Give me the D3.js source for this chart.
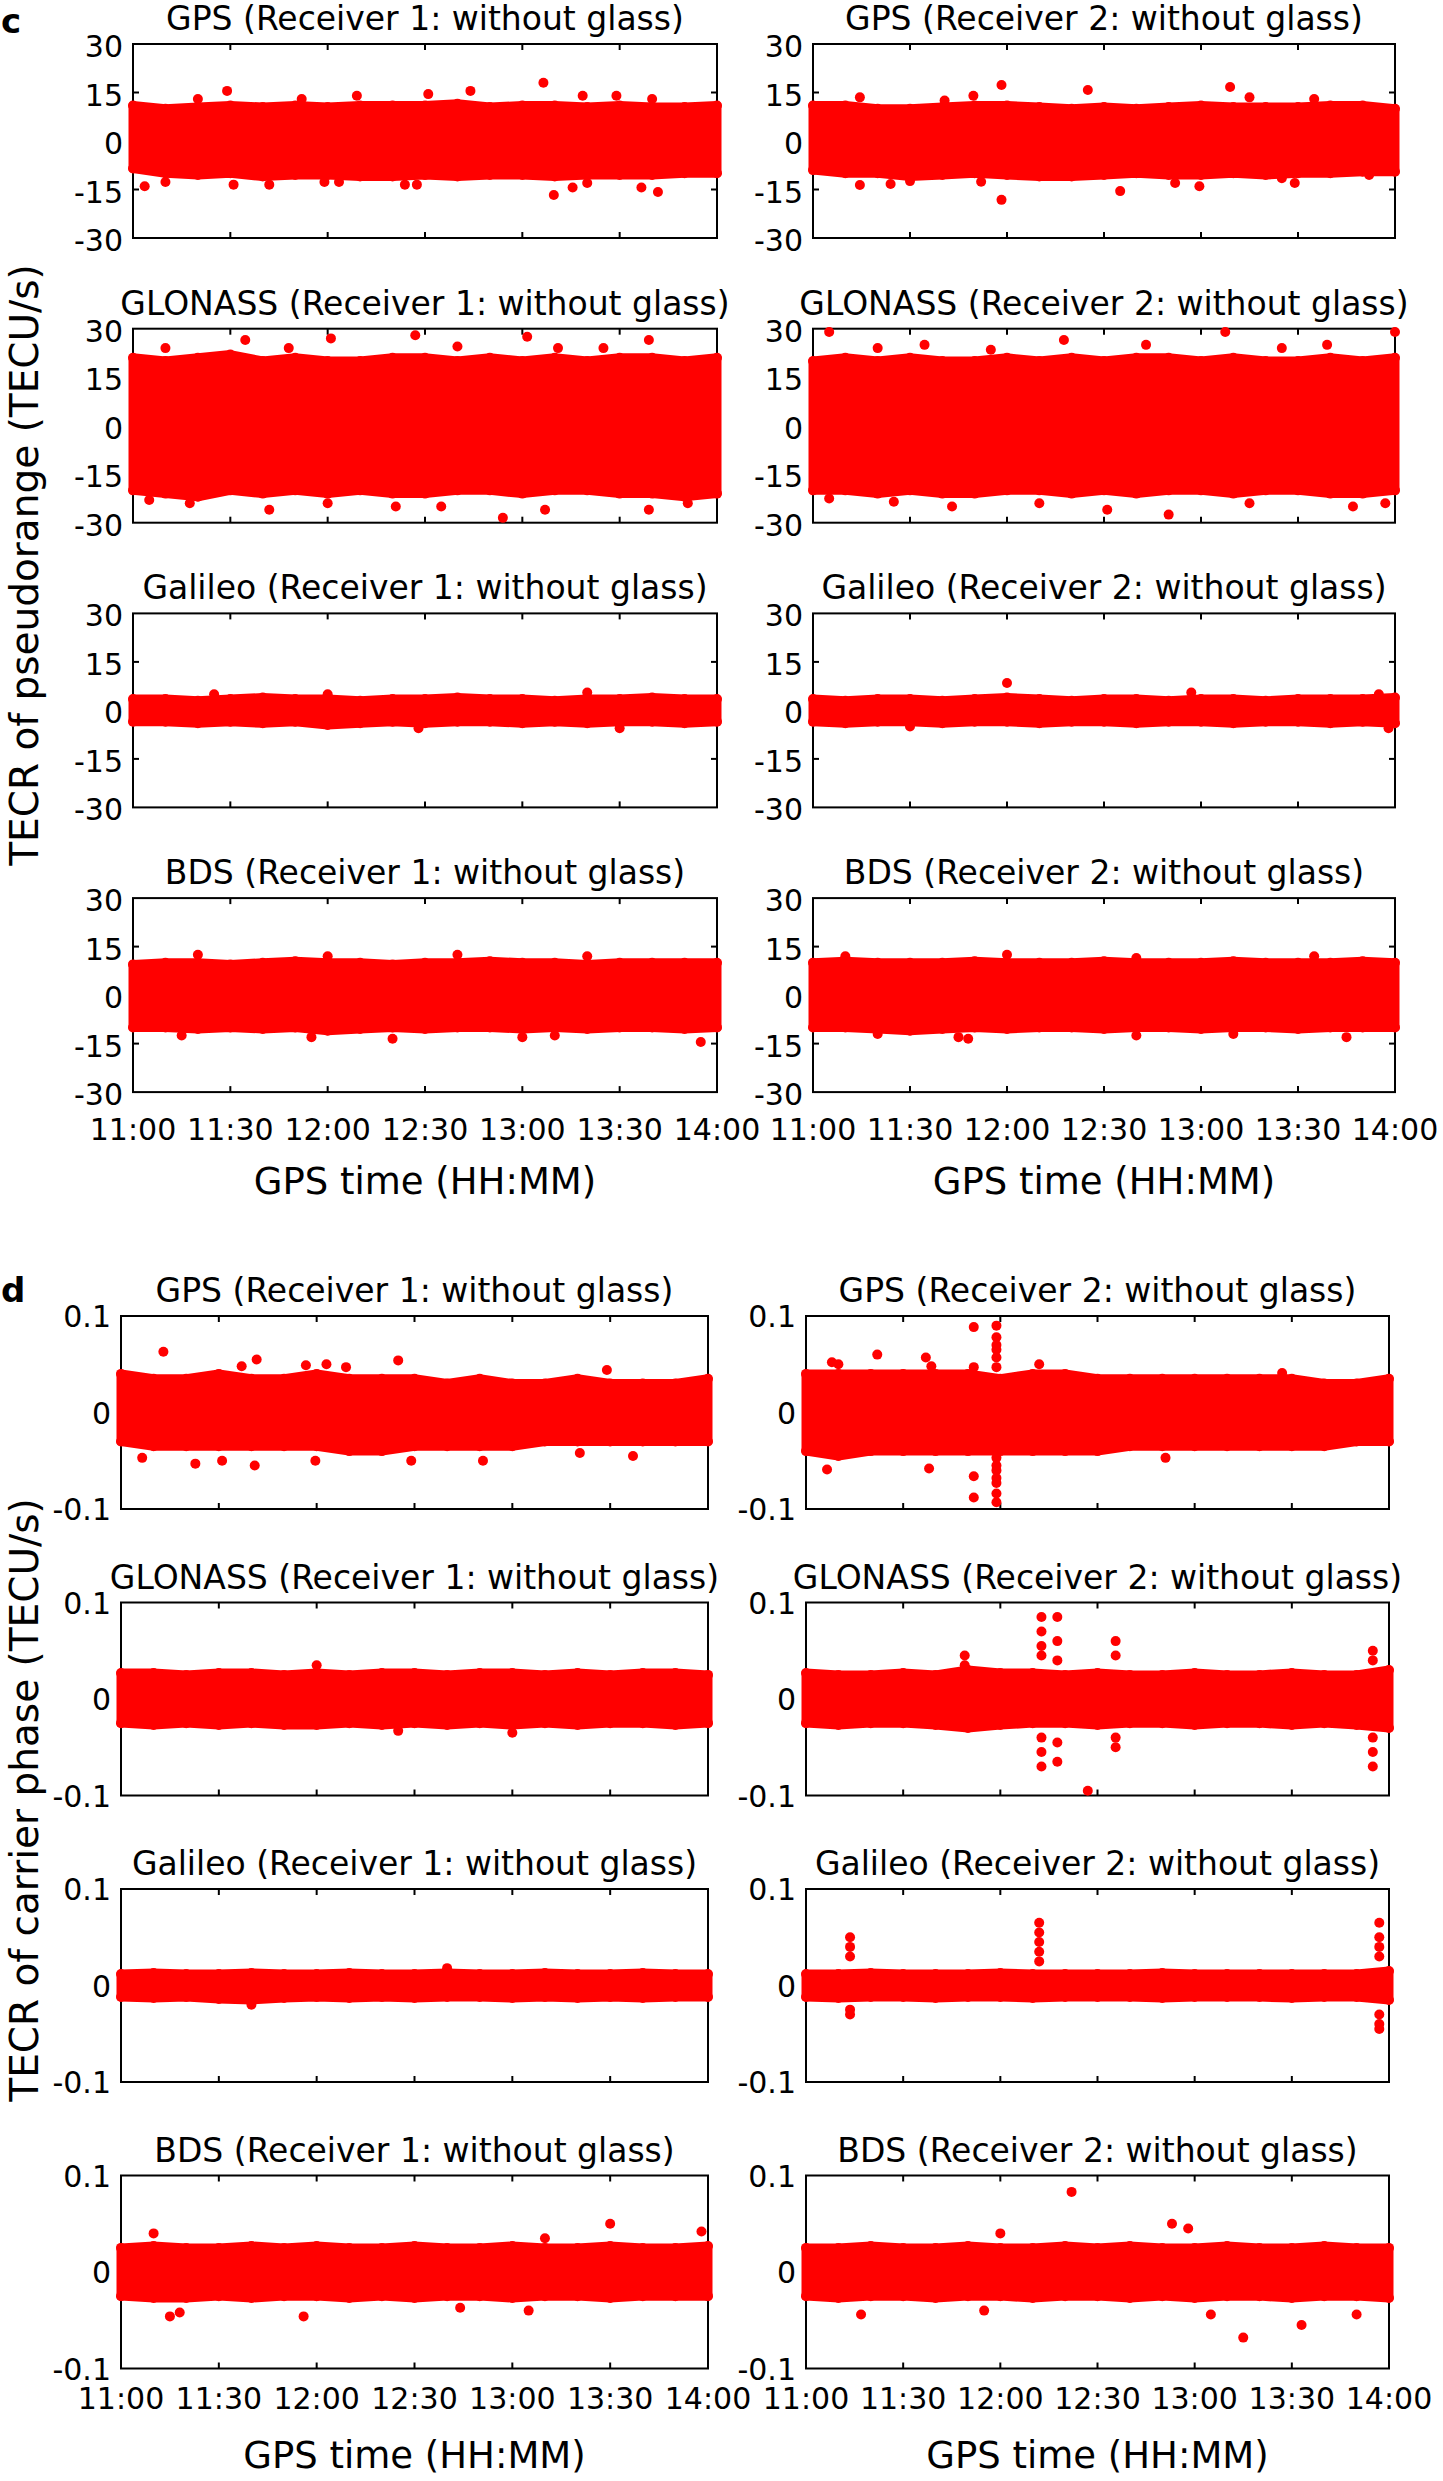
<!DOCTYPE html>
<html><head><meta charset="utf-8">
<script src="https://cdn.jsdelivr.net/npm/d3@7"></script>
<style>
body{margin:0;background:#fff}
svg text{font-family:"DejaVu Sans",sans-serif;fill:#000}
</style>
</head><body>
<svg id="chart" width="1443" height="2481"></svg>
<script>
// ---------- axis data ----------
const timeTicks = [0, 30, 60, 90, 120, 150, 180];            // minutes after 11:00
const timeTickLabels = ["11:00","11:30","12:00","12:30","13:00","13:30","14:00"];
const envTimes = [0,10,20,30,40,50,60,70,80,90,100,110,120,130,140,150,160,170,180];
const pseudoTicks = [-30, -15, 0, 15, 30];
const pseudoTickLabels = ["-30","-15","0","15","30"];
const phaseTicks = [-0.1, 0, 0.1];
const phaseTickLabels = ["-0.1","0","0.1"];
const systems = ["GPS","GLONASS","Galileo","BDS"];
const receivers = ["Receiver 1: without glass","Receiver 2: without glass"];

// ---------- (c) TECR of pseudorange: band envelopes (TECU/s) ----------
const gpsR1PrHi = [11,10,10.5,11,10.5,11,10.5,11,11,11,11.5,10.5,11,11,10.5,11,10.5,10.5,11];
const gpsR1PrLo = [-8.5,-10,-10.5,-10,-11,-10.5,-10.5,-11,-11,-10.5,-11,-10.5,-10.5,-11,-10.5,-10.5,-10.5,-10,-10];
const gpsR2PrHi = [11,11,10,10,10.5,11,11,10.5,10,10.5,10,10.5,11,10.5,10.5,10.5,11,11,10];
const gpsR2PrLo = [-9,-10,-10,-11,-10.5,-10,-10.5,-11,-11,-10.5,-10,-10.5,-10.5,-10,-10.5,-10,-10,-9.5,-9.5];
const gloR1PrHi = [21,20,21,22,20,21,20,20,21,21,20,21,20,21,20,21,21,20,21];
const gloR1PrLo = [-20,-21,-22,-20,-21,-20,-21,-20,-21,-21,-20,-20,-21,-20,-20,-21,-21,-22,-21];
const gloR2PrHi = [20,21,20,21,20,20,21,20,21,20,21,21,20,21,20,20,21,20,21];
const gloR2PrLo = [-20,-20,-21,-20,-21,-21,-20,-20,-21,-20,-21,-20,-20,-21,-20,-20,-21,-21,-20];
const galR1PrHi = [3.5,3.5,3,3.5,4,3.5,3.5,3,3.5,3.5,4,3.5,3.5,3,3.5,3.5,4,3.5,3.5];
const galR1PrLo = [-3.5,-3.5,-4,-3.5,-4,-3.5,-4.5,-4,-3.5,-4,-3.5,-3.5,-4,-3.5,-4,-3.5,-3.5,-4,-3.5];
const galR2PrHi = [3.5,3,3.5,3.5,3,3.5,4,3.5,3,3.5,3.5,3,3.5,3.5,3,3.5,3.5,3.5,4];
const galR2PrLo = [-3.5,-4,-3.5,-3.5,-4,-3.5,-3.5,-4,-3.5,-3.5,-4,-3.5,-3.5,-4,-3.5,-3.5,-4,-3.5,-4];
const bdsR1PrHi = [9.5,10,10,9.5,10,10.5,10,10,9.5,10,10,10.5,10,10,9.5,10,10,10,10];
const bdsR1PrLo = [-10,-10,-10.5,-10,-10.5,-10,-11,-10.5,-10,-10.5,-10,-10,-10.5,-10,-10.5,-10,-10,-10.5,-10];
const bdsR2PrHi = [10,10.5,10,10,10,10.5,10,10,10,10.5,10,10,10,10.5,10,10,10,10.5,10];
const bdsR2PrLo = [-10,-10,-10.5,-11,-10.5,-10,-10.5,-10,-10,-10.5,-10,-10,-10.5,-10,-10,-10.5,-10,-10,-10];

// outlying points [minutes after 11:00, value]
const gpsR1PrOut = [[29,15.5],[69,14],[91,14.5],[104,15.5],[126.5,18],[138.6,14],[149,14],[160,13],[52,13],[20,13],
  [3.6,-14],[10,-12.7],[31,-13.5],[42,-13.5],[59,-12.7],[63.5,-12.7],[83.8,-13.5],[87.5,-13.5],[129.7,-16.7],[135.5,-14.4],[140,-13],[156.7,-14.4],[161.8,-15.8]];
const gpsR2PrOut = [[58.3,17.3],[49.6,14],[85,15.8],[129,16.7],[135,13.5],[155,13],[14.5,13.5],[40.7,12.5],
  [58.3,-18.2],[14.5,-13.6],[24,-13.3],[30,-12.4],[52,-12.6],[95,-15.5],[112,-13],[119.5,-14],[145,-11.5],[149,-13],[172,-10.5]];
const gloR1PrOut = [[34.6,26.5],[61,27],[87,28],[121.5,27.5],[131,24],[159,26.5],[10,24],[48,24],[100,24.5],[145,24],
  [17.5,-24],[42,-26],[81,-25],[114,-28.5],[127,-26],[159,-26],[171,-24],[60,-24],[95,-25],[5,-23]];
const gloR2PrOut = [[5,29],[34.5,25],[77.6,26.5],[103,25],[127.5,29],[159,25],[180,29],[20,24],[55,23.5],[145,24],
  [5,-22.5],[43,-25],[91,-26],[110,-27.5],[167,-25],[177,-24],[25,-23.5],[70,-24],[135,-24]];
const galR1PrOut = [[60,5],[140,5.5],[25,5],[88,-5.5],[150,-5.5]];
const galR2PrOut = [[60,8.5],[117,5.5],[175,5],[178,-5.5],[30,-5]];
const bdsR1PrOut = [[20,12.5],[60,12],[100,12.5],[140,12],[55,-13],[80,-13.5],[130,-12.5],[175,-14.5],[120,-13],[15,-12.5]];
const bdsR2PrOut = [[10,12],[60,12.5],[155,12],[100,11.5],[45,-13],[48,-13.5],[100,-12.5],[130,-12],[165,-13],[20,-12]];

// ---------- (d) TECR of carrier phase: band envelopes (TECU/s) ----------
const gpsR1PhHi = [0.04,0.035,0.035,0.04,0.035,0.035,0.04,0.035,0.035,0.035,0.03,0.035,0.03,0.03,0.035,0.03,0.03,0.03,0.035];
const gpsR1PhLo = [-0.03,-0.035,-0.035,-0.035,-0.035,-0.035,-0.035,-0.04,-0.04,-0.035,-0.035,-0.035,-0.035,-0.03,-0.03,-0.03,-0.03,-0.03,-0.03];
const gpsR2PhHi = [0.04,0.04,0.04,0.04,0.04,0.04,0.035,0.04,0.04,0.035,0.035,0.035,0.035,0.035,0.035,0.035,0.03,0.03,0.035];
const gpsR2PhLo = [-0.04,-0.045,-0.04,-0.04,-0.04,-0.04,-0.04,-0.04,-0.04,-0.04,-0.035,-0.035,-0.035,-0.035,-0.035,-0.035,-0.035,-0.03,-0.03];
const gloR1PhHi = [0.027,0.027,0.025,0.027,0.027,0.025,0.027,0.025,0.027,0.027,0.025,0.027,0.027,0.025,0.027,0.025,0.027,0.027,0.025];
const gloR1PhLo = [-0.025,-0.027,-0.025,-0.027,-0.025,-0.027,-0.027,-0.025,-0.027,-0.025,-0.027,-0.025,-0.027,-0.025,-0.027,-0.025,-0.025,-0.027,-0.025];
const gloR2PhHi = [0.027,0.025,0.025,0.027,0.025,0.03,0.027,0.027,0.025,0.027,0.025,0.025,0.027,0.025,0.025,0.027,0.025,0.025,0.03];
const gloR2PhLo = [-0.025,-0.027,-0.025,-0.025,-0.027,-0.03,-0.027,-0.025,-0.025,-0.027,-0.025,-0.025,-0.027,-0.025,-0.025,-0.027,-0.025,-0.027,-0.03];
const galR1PhHi = [0.012,0.013,0.012,0.012,0.013,0.012,0.012,0.013,0.012,0.012,0.013,0.012,0.012,0.013,0.012,0.012,0.013,0.012,0.012];
const galR1PhLo = [-0.012,-0.013,-0.012,-0.014,-0.015,-0.013,-0.012,-0.013,-0.012,-0.013,-0.012,-0.012,-0.013,-0.012,-0.013,-0.012,-0.013,-0.012,-0.012];
const galR2PhHi = [0.012,0.012,0.013,0.012,0.012,0.012,0.013,0.012,0.012,0.012,0.012,0.013,0.012,0.012,0.012,0.012,0.012,0.012,0.015];
const galR2PhLo = [-0.012,-0.013,-0.012,-0.012,-0.013,-0.012,-0.012,-0.013,-0.012,-0.012,-0.012,-0.013,-0.012,-0.012,-0.012,-0.013,-0.012,-0.012,-0.015];
const bdsR1PhHi = [0.025,0.027,0.025,0.025,0.027,0.025,0.027,0.025,0.025,0.027,0.025,0.025,0.027,0.025,0.025,0.027,0.025,0.025,0.027];
const bdsR1PhLo = [-0.025,-0.027,-0.027,-0.025,-0.027,-0.025,-0.025,-0.027,-0.025,-0.027,-0.025,-0.025,-0.027,-0.025,-0.025,-0.027,-0.025,-0.025,-0.025];
const bdsR2PhHi = [0.025,0.025,0.027,0.025,0.025,0.027,0.025,0.025,0.027,0.025,0.027,0.025,0.025,0.027,0.025,0.025,0.027,0.025,0.025];
const bdsR2PhLo = [-0.025,-0.027,-0.025,-0.025,-0.027,-0.025,-0.025,-0.027,-0.025,-0.025,-0.027,-0.025,-0.027,-0.025,-0.025,-0.027,-0.025,-0.025,-0.027];

const gpsR1PhOut = [[13,0.063],[41.6,0.055],[37,0.048],[56.7,0.049],[63,0.05],[69,0.047],[85,0.054],[149,0.044],
  [6.5,-0.047],[22.8,-0.053],[31,-0.05],[41,-0.055],[59.6,-0.05],[89,-0.05],[111,-0.05],[140.7,-0.042],[157,-0.045]];
const gpsR2PhOut = [[51.8,0.0885],[51.8,0.047],[51.8,-0.066],[51.8,-0.088],
  [58.8,0.09],[58.8,0.078],[58.8,0.07],[58.8,0.065],[58.8,0.057],[58.8,0.047],
  [58.8,-0.047],[58.8,-0.055],[58.8,-0.06],[58.8,-0.068],[58.8,-0.073],[58.8,-0.084],[58.8,-0.093],
  [22,0.06],[37,0.057],[38.7,0.048],[72,0.05],[8,0.052],[10,0.05],[147,0.041],[38,-0.058],[6.5,-0.059],[111,-0.047]];
const gloR1PhOut = [[60,0.035],[120,-0.035],[85,-0.033]];
const gloR2PhOut = [[49,0.045],[49,0.035],[72.7,0.085],[72.7,0.07],[72.7,0.055],[72.7,0.045],[72.7,-0.04],[72.7,-0.055],[72.7,-0.07],
  [77.6,0.085],[77.6,0.06],[77.6,0.04],[77.6,-0.045],[77.6,-0.065],[87,-0.095],[95.6,0.06],[95.6,0.045],[95.6,-0.04],[95.6,-0.05],
  [175,0.05],[175,0.04],[175,-0.04],[175,-0.055],[175,-0.07]];
const galR1PhOut = [[40,-0.02],[100,0.018]];
const galR2PhOut = [[13.6,0.05],[13.6,0.04],[13.6,0.03],[13.6,-0.025],[13.6,-0.03],[72,0.065],[72,0.055],[72,0.045],[72,0.035],[72,0.025],
  [177,0.065],[177,0.05],[177,0.04],[177,0.03],[177,-0.03],[177,-0.04],[177,-0.045]];
const bdsR1PhOut = [[10,0.04],[150,0.05],[178,0.042],[130,0.035],[15,-0.046],[18,-0.042],[56,-0.046],[104,-0.037],[125,-0.04]];
const bdsR2PhOut = [[82,0.083],[113,0.05],[118,0.045],[135,-0.068],[153,-0.055],[17,-0.044],[55,-0.04],[170,-0.044],[125,-0.044],[60,0.04]];

// ---------- build panel tables ----------
const prHi = [[gpsR1PrHi,gpsR2PrHi],[gloR1PrHi,gloR2PrHi],[galR1PrHi,galR2PrHi],[bdsR1PrHi,bdsR2PrHi]];
const prLo = [[gpsR1PrLo,gpsR2PrLo],[gloR1PrLo,gloR2PrLo],[galR1PrLo,galR2PrLo],[bdsR1PrLo,bdsR2PrLo]];
const prOut = [[gpsR1PrOut,gpsR2PrOut],[gloR1PrOut,gloR2PrOut],[galR1PrOut,galR2PrOut],[bdsR1PrOut,bdsR2PrOut]];
const phHi = [[gpsR1PhHi,gpsR2PhHi],[gloR1PhHi,gloR2PhHi],[galR1PhHi,galR2PhHi],[bdsR1PhHi,bdsR2PhHi]];
const phLo = [[gpsR1PhLo,gpsR2PhLo],[gloR1PhLo,gloR2PhLo],[galR1PhLo,galR2PhLo],[bdsR1PhLo,bdsR2PhLo]];
const phOut = [[gpsR1PhOut,gpsR2PhOut],[gloR1PhOut,gloR2PhOut],[galR1PhOut,galR2PhOut],[bdsR1PhOut,bdsR2PhOut]];

const svg = d3.select("#chart");
const RED = "#ff0000";

function drawPanel(o) {
  const x = d3.scaleLinear().domain([0,180]).range([o.x0, o.x1]);
  const y = d3.scaleLinear().domain(o.yDomain).range([o.top + o.h, o.top]);
  const g = svg.append("g");
  // title
  g.append("text").attr("x", (o.x0+o.x1)/2).attr("y", o.top - 14)
    .attr("text-anchor","middle").style("font-size","33px").text(o.title);
  // box
  g.append("rect").attr("x",o.x0).attr("y",o.top).attr("width",o.x1-o.x0).attr("height",o.h)
    .attr("fill","none").attr("stroke","#000").attr("stroke-width",2);
  // inner ticks
  const tl = 6;
  timeTicks.slice(1,-1).forEach(t => {
    g.append("line").attr("x1",x(t)).attr("x2",x(t)).attr("y1",o.top+o.h).attr("y2",o.top+o.h-tl).attr("stroke","#000").attr("stroke-width",2);
    g.append("line").attr("x1",x(t)).attr("x2",x(t)).attr("y1",o.top).attr("y2",o.top+tl).attr("stroke","#000").attr("stroke-width",2);
  });
  o.yTicks.slice(1,-1).forEach(v => {
    g.append("line").attr("x1",o.x0).attr("x2",o.x0+tl).attr("y1",y(v)).attr("y2",y(v)).attr("stroke","#000").attr("stroke-width",2);
    g.append("line").attr("x1",o.x1).attr("x2",o.x1-tl).attr("y1",y(v)).attr("y2",y(v)).attr("stroke","#000").attr("stroke-width",2);
  });
  // y tick labels
  o.yTicks.forEach((v,i) => {
    g.append("text").attr("x", o.x0 - 10).attr("y", y(v) + o.yLabOff)
      .attr("text-anchor","end").style("font-size","30px").text(o.yTickLabels[i]);
  });
  // data band
  const band = envTimes.map((t,i) => ({t, hi:o.hi[i], lo:o.lo[i]}));
  const area = d3.area().x(d=>x(d.t)).y0(d=>y(d.lo)).y1(d=>y(d.hi)).curve(d3.curveLinear);
  g.append("path").attr("d", area(band)).attr("fill",RED).attr("stroke",RED)
    .attr("stroke-width",9).attr("stroke-linejoin","round");
  g.selectAll("circle.env").data(band.flatMap(d=>[[d.t,d.hi],[d.t,d.lo]])).enter()
    .append("circle").attr("cx",d=>x(d[0])).attr("cy",d=>y(d[1])).attr("r",5).attr("fill",RED);
  g.selectAll("circle.out").data(o.out).enter()
    .append("circle").attr("cx",d=>x(d[0])).attr("cy",d=>y(d[1])).attr("r",5).attr("fill",RED);
  // x tick labels
  if (o.showX) {
    timeTicks.forEach((t,i) => {
      g.append("text").attr("x", x(t)).attr("y", o.tickBase)
        .attr("text-anchor","middle").style("font-size","30px").text(timeTickLabels[i]);
    });
    g.append("text").attr("x",(o.x0+o.x1)/2).attr("y", o.xlabBase)
      .attr("text-anchor","middle").style("font-size","37px").text("GPS time (HH:MM)");
  }
}

// (c)
const cCols = [[133,717],[813,1395]];
for (let r=0; r<4; r++) for (let c=0; c<2; c++) {
  drawPanel({x0:cCols[c][0], x1:cCols[c][1], top:44 + r*284.7, h:194,
    yDomain:[-30,30], yTicks:pseudoTicks, yTickLabels:pseudoTickLabels, yLabOff:13,
    title:`${systems[r]} (${receivers[c]})`, hi:prHi[r][c], lo:prLo[r][c], out:prOut[r][c],
    showX:r===3, tickBase:1140, xlabBase:1194});
}
// (d)
const dCols = [[121,708],[806,1389]];
for (let r=0; r<4; r++) for (let c=0; c<2; c++) {
  drawPanel({x0:dCols[c][0], x1:dCols[c][1], top:1316 + r*286.5, h:193,
    yDomain:[-0.1,0.1], yTicks:phaseTicks, yTickLabels:phaseTickLabels, yLabOff:11,
    title:`${systems[r]} (${receivers[c]})`, hi:phHi[r][c], lo:phLo[r][c], out:phOut[r][c],
    showX:r===3, tickBase:2409, xlabBase:2468});
}

// panel letters
svg.append("text").attr("x",1).attr("y",33).style("font-size","34px").style("font-weight","bold").text("c");
svg.append("text").attr("x",1).attr("y",1302).style("font-size","34px").style("font-weight","bold").text("d");
// y labels
svg.append("text").attr("transform","translate(38,565) rotate(-90)").attr("text-anchor","middle")
  .style("font-size","39px").text("TECR of pseudorange (TECU/s)");
svg.append("text").attr("transform","translate(38,1800) rotate(-90)").attr("text-anchor","middle")
  .style("font-size","39px").text("TECR of carrier phase (TECU/s)");
</script>
</body></html>
